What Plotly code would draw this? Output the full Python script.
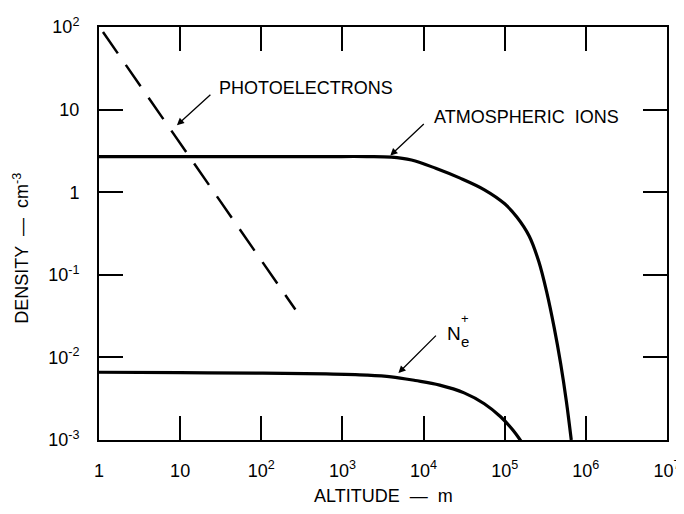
import plotly.graph_objects as go

# ---- data ----
photo_alt = [1.12, 263]
photo_density = [87, 0.038]

ions_alt = [1, 10, 100, 630, 2000, 4000, 7100, 14100, 28200, 56200, 100000, 141000,
            200000, 263000, 331000, 407000, 490000, 575000, 661000]
ions_density = [2.7, 2.7, 2.7, 2.7, 2.7, 2.66, 2.45, 1.95, 1.48, 1.07, 0.724, 0.501,
                0.295, 0.1445, 0.0603, 0.0229, 0.00832, 0.00295, 0.001]

ne_alt = [1, 10, 100, 630, 2000, 4000, 7900, 15800, 31600, 56000, 89000, 126000, 166000]
ne_density = [0.00661, 0.00653, 0.00646, 0.00631, 0.0061, 0.00582, 0.00525, 0.00462,
              0.00372, 0.00275, 0.00191, 0.00132, 0.00091]

x_tickvals = [1, 10, 1e2, 1e3, 1e4, 1e5, 1e6, 1e7]
x_ticktext = ["1", "10", "10<sup>2</sup>", "10<sup>3</sup>", "10<sup>4</sup>",
              "10<sup>5</sup>", "10<sup>6</sup>", "10<sup>7</sup>"]
y_tickvals = [1e-3, 1e-2, 1e-1, 1, 10, 100]
y_ticktext = ["10<sup>-3</sup>", "10<sup>-2</sup>", "10<sup>-1</sup>", "1", "10", "10<sup>2</sup>"]

FONT = "Liberation Sans, Arial, Helvetica, sans-serif"

fig = go.Figure()
fig.add_trace(go.Scatter(x=photo_alt, y=photo_density, mode="lines",
                         line=dict(color="black", width=2.5, dash="26px,14px"),
                         showlegend=False, hoverinfo="skip"))
fig.add_trace(go.Scatter(x=ions_alt, y=ions_density, mode="lines",
                         line=dict(color="black", width=3.2, shape="spline", smoothing=1.0),
                         showlegend=False, hoverinfo="skip"))
fig.add_trace(go.Scatter(x=ne_alt, y=ne_density, mode="lines",
                         line=dict(color="black", width=3.2, shape="spline", smoothing=1.0),
                         showlegend=False, hoverinfo="skip"))

axis_common = dict(showline=True, linecolor="black", linewidth=2, mirror="ticks",
                   ticks="inside", ticklen=24, tickwidth=1.5, tickcolor="black",
                   showgrid=False, zeroline=False, automargin=False,
                   tickfont=dict(family=FONT, size=18, color="black"))

fig.update_xaxes(type="log", range=[0, 7], tickvals=x_tickvals, ticktext=x_ticktext,
                 ticklabelstandoff=13, **axis_common)
fig.update_yaxes(type="log", range=[-3, 2], tickvals=y_tickvals, ticktext=y_ticktext,
                 ticklabelstandoff=14, **axis_common)

ann_font = dict(family=FONT, size=18, color="black")
annotations = [
    # arrows
    dict(x=0.96, y=0.81, ax=35, ay=-32, xref="x", yref="y", text="", showarrow=True,
         arrowhead=2, arrowsize=1.1, arrowwidth=1.3, arrowcolor="black"),
    dict(x=3.59, y=0.443, ax=35, ay=-33, xref="x", yref="y", text="", showarrow=True,
         arrowhead=2, arrowsize=1.1, arrowwidth=1.3, arrowcolor="black"),
    dict(x=3.69, y=-2.19, ax=39, ay=-39, xref="x", yref="y", text="", showarrow=True,
         arrowhead=2, arrowsize=1.1, arrowwidth=1.3, arrowcolor="black"),
    # labels
    dict(x=1.455, y=1.258, xref="x", yref="y", text="PHOTOELECTRONS", showarrow=False,
         xanchor="left", yanchor="middle", font=ann_font),
    dict(x=4.106, y=0.905, xref="x", yref="y", text="ATMOSPHERIC  IONS", showarrow=False,
         xanchor="left", yanchor="middle", font=ann_font),
    dict(x=4.27, y=-1.71, xref="x", yref="y", text="N", showarrow=False,
         xanchor="left", yanchor="middle", font=dict(family=FONT, size=19, color="black")),
    dict(x=4.44, y=-1.53, xref="x", yref="y", text="+", showarrow=False,
         xanchor="left", yanchor="middle", font=dict(family=FONT, size=13, color="black")),
    dict(x=4.44, y=-1.81, xref="x", yref="y", text="e", showarrow=False,
         xanchor="left", yanchor="middle", font=dict(family=FONT, size=15, color="black")),
    # axis titles
    dict(x=-0.136, y=0.465, xref="paper", yref="paper", text="DENSITY  —  cm<sup>-3</sup>",
         textangle=-90, showarrow=False, xanchor="center", yanchor="middle", font=ann_font),
    dict(x=0.5, y=-0.136, xref="paper", yref="paper", text="ALTITUDE  —  m",
         showarrow=False, xanchor="center", yanchor="middle", font=ann_font),
]
# page body has an 8px margin; keep the page within the 684x514 window
fig.update_layout(width=676, height=498, annotations=annotations,
                  margin=dict(l=91, r=17, t=19, b=66),
                  paper_bgcolor="white", plot_bgcolor="white",
                  font=dict(family=FONT, color="black"))

fig.write_html("out.html")
